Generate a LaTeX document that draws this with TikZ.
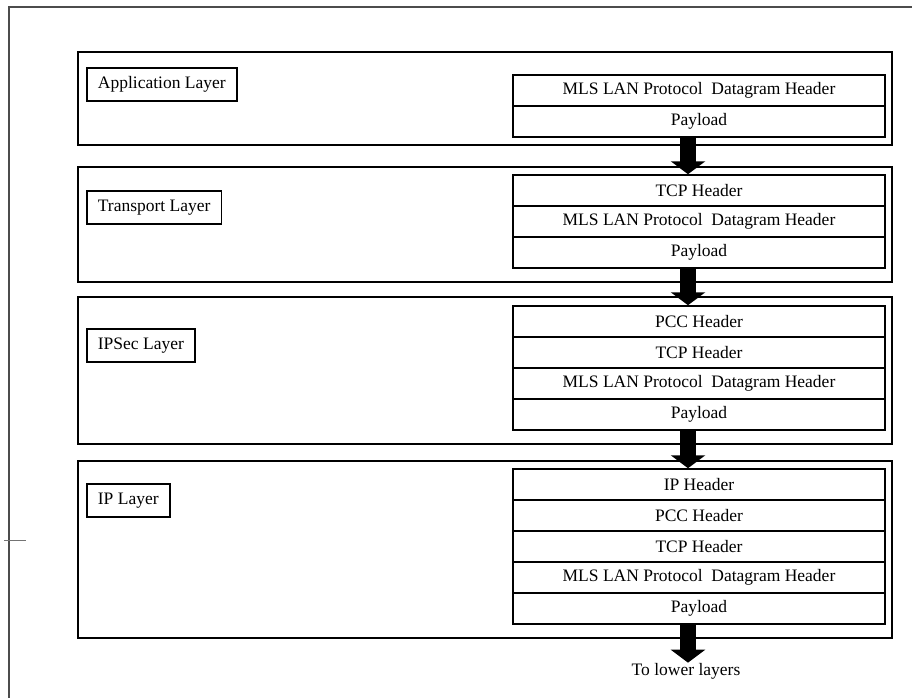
\documentclass[tikz,border=0pt]{standalone}
\usepackage{fontspec}
\setmainfont{Liberation Serif}
\usetikzlibrary{arrows.meta}

\begin{document}
\begin{tikzpicture}[x=1pt, y=-1pt,
  font=\fontsize{17.5}{20}\selectfont,
  layerbox/.style={draw, line width=1.8pt},
  lblbox/.style={draw, line width=1.8pt, anchor=north west, minimum height=33pt, inner xsep=11pt},
  pktrow/.style={draw, line width=1.5pt, minimum width=372pt, minimum height=31pt, inner sep=0pt},
  downarrow/.style={line width=16pt, -{Triangle[width=34pt, length=13pt]}}]
\useasboundingbox (0,0) rectangle (912,698);
\def\rowh{31}
\def\pkx{699}
\def\ax{-11pt}

% page frame
\draw [line width=2pt, black!70] (9,720) -- (9,7) -- (930,7);
\draw [line width=1pt, black!55] (4,540) -- (26,540);

% layers
\draw [layerbox] (78,52) rectangle (892,145);
\draw [layerbox] (78,167) rectangle (892,282);
\draw [layerbox] (78,297) rectangle (892,444);
\draw [layerbox] (78,461) rectangle (892,638);

\node [lblbox] (applbl) at (86,67) {Application Layer};
\node [lblbox] (trlbl) at (86,190) {Transport Layer};
\node [lblbox] (seclbl) at (86,328) {IPSec Layer};
\node [lblbox] (iplbl) at (86,483) {IP Layer};

% packets
\foreach \t [count=\i] in {MLS LAN Protocol\ \ Datagram Header, Payload}
  \node [pktrow] (app\i) at (\pkx, {75+\rowh*\i-\rowh/2}) {\t};
\foreach \t [count=\i] in {TCP Header, MLS LAN Protocol\ \ Datagram Header, Payload}
  \node [pktrow] (tr\i) at (\pkx, {175+\rowh*\i-\rowh/2}) {\t};
\foreach \t [count=\i] in {PCC Header, TCP Header, MLS LAN Protocol\ \ Datagram Header, Payload}
  \node [pktrow] (sec\i) at (\pkx, {306+\rowh*\i-\rowh/2}) {\t};
\foreach \t [count=\i] in {IP Header, PCC Header, TCP Header, MLS LAN Protocol\ \ Datagram Header, Payload}
  \node [pktrow] (ip\i) at (\pkx, {469+\rowh*\i-\rowh/2}) {\t};

\node [anchor=base, inner sep=0pt] (lowtxt) at (686,675) {To lower layers};

% arrows
\draw [downarrow] ([xshift=\ax]app2.south) -- ([xshift=\ax]tr1.north);
\draw [downarrow] ([xshift=\ax]tr3.south) -- ([xshift=\ax]sec1.north);
\draw [downarrow] ([xshift=\ax]sec4.south) -- ([xshift=\ax]ip1.north);
\draw [downarrow] ([xshift=\ax]ip5.south) -- ([xshift=\ax]ip5.south |- lowtxt.north);

\end{tikzpicture}
\end{document}
